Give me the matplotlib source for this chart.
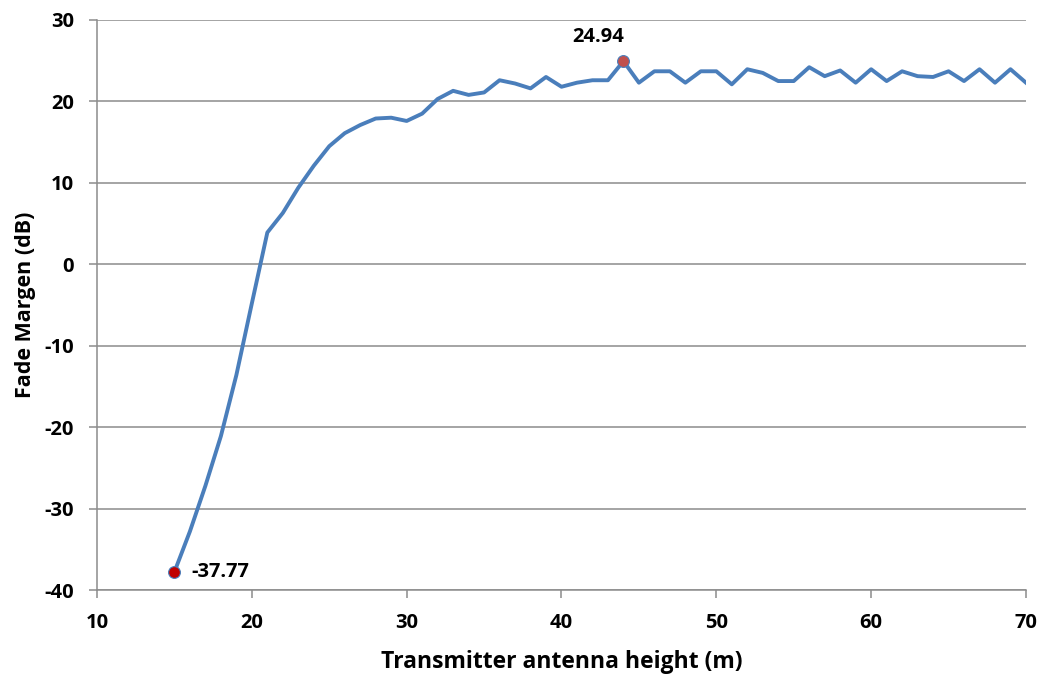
import numpy as np
import matplotlib
matplotlib.use("Agg")
import matplotlib.pyplot as plt

plt.rcParams['font.family'] = ['Open Sans', 'DejaVu Sans']
plt.rcParams['axes.unicode_minus'] = False

# transmitter antenna height (m)
height = list(range(15, 71))
# fade margin (dB)
fade_margin = [-37.77, -32.8, -27.2, -21.1, -13.6, -4.8, 3.9, 6.3, 9.4, 12.1,
               14.5, 16.1, 17.1, 17.9, 18.0, 17.6, 18.5, 20.3, 21.3, 20.8,
               21.1, 22.6, 22.2, 21.6, 23.0, 21.8, 22.3, 22.6, 22.6, 24.94,
               22.3, 23.7, 23.7, 22.3, 23.7, 23.7, 22.1, 23.95, 23.5, 22.5,
               22.5, 24.2, 23.1, 23.8, 22.3, 23.95, 22.5, 23.7, 23.1, 23.0,
               23.7, 22.5, 23.95, 22.3, 23.95, 22.3]

min_i = int(np.argmin(fade_margin))
max_i = int(np.argmax(fade_margin))

fig = plt.figure(figsize=(10.4, 6.75), dpi=100)
ax = fig.add_axes([0.0933, 0.1259, 0.8932, 0.8445])

ax.plot(height, fade_margin, color='#4a7ebb', lw=2.8, solid_joinstyle='round', zorder=3)
ax.plot(height[min_i], fade_margin[min_i], 'o', color='#c00000', mec='#4a7ebb',
        mew=0.8, ms=8.5, zorder=4)
ax.plot(height[max_i], fade_margin[max_i], 'o', color='#c0504d', mec='#4a7ebb',
        mew=0.8, ms=8.5, zorder=4)
ax.annotate(f'{fade_margin[min_i]:.2f}', (height[min_i], fade_margin[min_i]),
            xytext=(12, 0), textcoords='offset points', va='center', ha='left',
            fontsize=14.5, fontweight='bold')
ax.annotate(f'{fade_margin[max_i]:.2f}', (height[max_i], fade_margin[max_i]),
            xytext=(-18, 10), textcoords='offset points', va='bottom', ha='center',
            fontsize=14.5, fontweight='bold')

ax.set_xlim(10, 70)
ax.set_ylim(-40, 30)
ax.set_xticks(range(10, 71, 10))
ax.set_yticks(range(-40, 31, 10))
ax.yaxis.grid(True, color='#8c8c8c', lw=1.1)
ax.set_axisbelow(True)

for side in ['top', 'right']:
    ax.spines[side].set_visible(False)
for side in ['left', 'bottom']:
    ax.spines[side].set_color('#8c8c8c')
    ax.spines[side].set_linewidth(1.1)
ax.tick_params(axis='both', direction='out', length=5.5, width=1.1, color='#8c8c8c',
               labelsize=14.5, pad=11)
for lbl in ax.get_xticklabels() + ax.get_yticklabels():
    lbl.set_fontweight('bold')

ax.set_xlabel('Transmitter antenna height (m)', fontsize=16.5, fontweight='bold', labelpad=12)
ax.set_ylabel('Fade Margen (dB)', fontsize=15.5, fontweight='bold', labelpad=6)

fig.savefig('out.png', dpi=100)
